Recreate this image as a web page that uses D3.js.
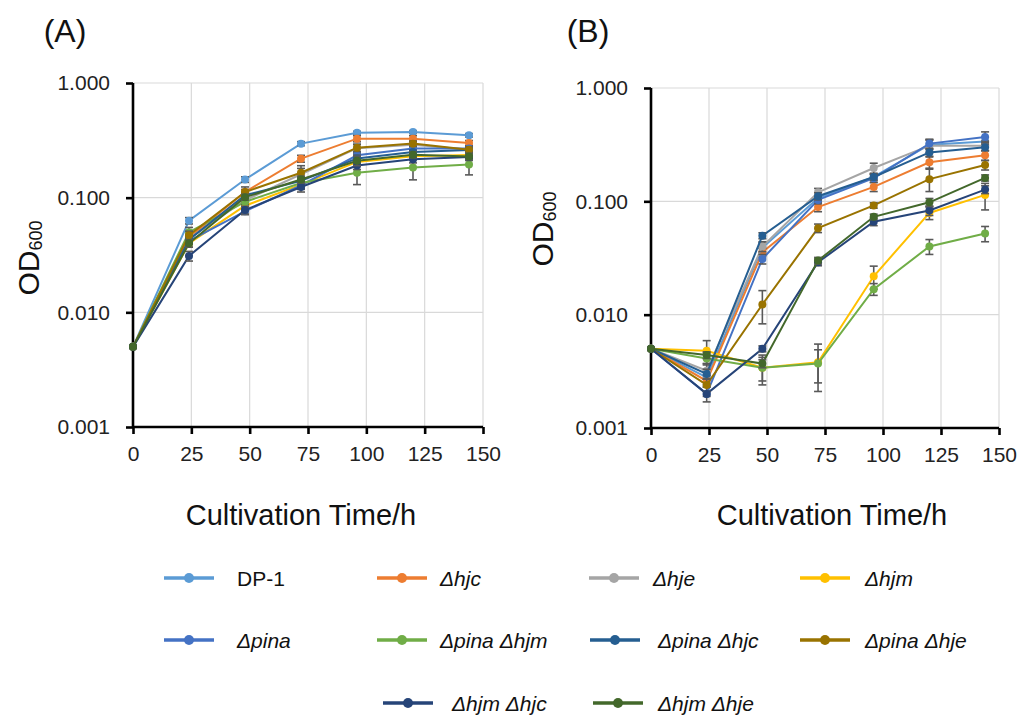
<html>
  <head>
    <meta charset="UTF-8" />
    <script src="https://cdnjs.cloudflare.com/ajax/libs/d3/7.8.5/d3.min.js"></script>
    <style>
      body { margin: 0; background: #fff; }
      text { font-family: "Liberation Sans", Arial, sans-serif; fill: #111; }
    </style>
  </head>
  <body>
    <svg id="chart" width="1029" height="715"></svg>
    <script>
      // sampling times (h)
      const timeH = [0, 24, 48, 72, 96, 120, 144];
      const xTicks = [0, 25, 50, 75, 100, 125, 150];
      const yTicks = [0.001, 0.01, 0.1, 1];

      const strainNames = [
        "DP-1", "Δhjc", "Δhje", "Δhjm", "Δpina",
        "Δpina Δhjm", "Δpina Δhjc", "Δpina Δhje", "Δhjm Δhjc", "Δhjm Δhje"
      ];
      const strainColors = [
        "#5b9bd5", "#ed7d31", "#a5a5a5", "#ffc000", "#4472c4",
        "#70ad47", "#255e91", "#997300", "#264478", "#43682b"
      ];

      // panel A : OD600 means, one row per strain
      const odA = [
        [0.005, 0.063, 0.144, 0.296, 0.369, 0.374, 0.350],
        [0.005, 0.045, 0.112, 0.219, 0.327, 0.327, 0.300],
        [0.005, 0.044, 0.095, 0.160, 0.270, 0.290, 0.262],
        [0.005, 0.040, 0.085, 0.130, 0.205, 0.230, 0.235],
        [0.005, 0.042, 0.076, 0.128, 0.234, 0.268, 0.268],
        [0.005, 0.050, 0.092, 0.134, 0.165, 0.183, 0.195],
        [0.005, 0.043, 0.105, 0.140, 0.220, 0.250, 0.260],
        [0.005, 0.047, 0.112, 0.165, 0.273, 0.296, 0.262],
        [0.005, 0.031, 0.078, 0.124, 0.191, 0.216, 0.226],
        [0.005, 0.040, 0.101, 0.144, 0.210, 0.237, 0.229]
      ];
      const sdA = [
        [0, 0.004, 0.008, 0.012, 0.010, 0.010, 0.012],
        [0, 0.003, 0.006, 0.015, 0.020, 0.020, 0.015],
        [0, 0.003, 0.010, 0.020, 0.020, 0.020, 0.020],
        [0, 0.003, 0.005, 0.010, 0.015, 0.015, 0.015],
        [0, 0.003, 0.005, 0.010, 0.010, 0.010, 0.010],
        [0, 0.005, 0.005, 0.015, 0.035, 0.040, 0.037],
        [0, 0.003, 0.006, 0.010, 0.015, 0.010, 0.010],
        [0, 0.004, 0.012, 0.025, 0.020, 0.015, 0.015],
        [0, 0.003, 0.006, 0.012, 0.015, 0.015, 0.015],
        [0, 0.003, 0.006, 0.010, 0.020, 0.015, 0.015]
      ];

      // panel B : OD600 means
      const odB = [
        [0.005, 0.0028, 0.039, 0.107, 0.164, 0.316, 0.338],
        [0.005, 0.0026, 0.0355, 0.089, 0.134, 0.221, 0.255],
        [0.005, 0.0032, 0.040, 0.120, 0.197, 0.310, 0.310],
        [0.005, 0.0048, 0.0034, 0.0038, 0.0218, 0.079, 0.114],
        [0.005, 0.0020, 0.031, 0.103, 0.160, 0.323, 0.370],
        [0.005, 0.0041, 0.0034, 0.0037, 0.0168, 0.040, 0.052],
        [0.005, 0.0030, 0.0498, 0.111, 0.164, 0.270, 0.300],
        [0.005, 0.0024, 0.0123, 0.058, 0.092, 0.157, 0.209],
        [0.005, 0.0020, 0.0050, 0.029, 0.066, 0.083, 0.127],
        [0.005, 0.0044, 0.0037, 0.030, 0.073, 0.098, 0.161]
      ];
      const sdB = [
        [0, 0.0004, 0.004, 0.008, 0.010, 0.030, 0.030],
        [0, 0.0003, 0.003, 0.008, 0.012, 0.025, 0.025],
        [0, 0.0005, 0.004, 0.010, 0.020, 0.040, 0.030],
        [0, 0.0011, 0.0008, 0.0017, 0.005, 0.010, 0.030],
        [0, 0.0003, 0.003, 0.008, 0.012, 0.030, 0.040],
        [0, 0.0005, 0.0010, 0.0012, 0.002, 0.006, 0.008],
        [0, 0.0003, 0.003, 0.008, 0.010, 0.020, 0.020],
        [0, 0.0003, 0.004, 0.005, 0.005, 0.035, 0.020],
        [0, 0.0001, 0.0003, 0.002, 0.005, 0.008, 0.010],
        [0, 0.0003, 0.0003, 0.002, 0.004, 0.008, 0.010]
      ];

      const svg = d3.select("#chart");

      const panels = [
        { tag: "(A)", tagX: 65, od: odA, sd: sdA, left: 133, right: 483, top: 83, bottom: 427, titleX: 301, odLabelX: 29, odLabelY: 258 },
        { tag: "(B)", tagX: 588, od: odB, sd: sdB, left: 651, right: 999, top: 88, bottom: 428, titleX: 832, odLabelX: 543, odLabelY: 229 }
      ];

      panels.forEach(drawPanel);

      function drawPanel(p) {
        let x = d3.scaleLinear().domain([0, 150]).range([p.left, p.right]);
        let y = d3.scaleLog().domain([0.001, 1]).range([p.bottom, p.top]);

        let g = svg.append("g");

        // grid
        g.append("g")
          .selectAll("line.vg")
          .data(xTicks.slice(1))
          .enter()
          .append("line")
          .attr("x1", d => x(d)).attr("x2", d => x(d))
          .attr("y1", p.top).attr("y2", p.bottom)
          .style("stroke", "#d9d9d9").style("stroke-width", 1.2);
        g.append("g")
          .selectAll("line.hg")
          .data(yTicks.slice(1))
          .enter()
          .append("line")
          .attr("x1", p.left).attr("x2", p.right)
          .attr("y1", d => y(d)).attr("y2", d => y(d))
          .style("stroke", "#d9d9d9").style("stroke-width", 1.2);

        // axes
        let xAxis = g.append("g")
          .attr("transform", `translate(0, ${p.bottom})`)
          .call(d3.axisBottom(x).tickValues(xTicks).tickSize(7).tickPadding(12).tickFormat(d3.format("d")));
        let yAxis = g.append("g")
          .attr("transform", `translate(${p.left}, 0)`)
          .call(d3.axisLeft(y).tickValues(yTicks).tickSize(7).tickPadding(16).tickFormat(d3.format(".3f")));

        [xAxis, yAxis].forEach(a => {
          a.select(".domain").style("stroke", "#000").style("stroke-width", 2.6);
          a.selectAll(".tick line").style("stroke", "#000").style("stroke-width", 2.6);
          a.selectAll(".tick text")
            .style("font-size", "21px")
            .style("fill", "#222")
            .style("font-family", "'Liberation Sans', Arial, sans-serif");
        });
        xAxis.select(".domain").attr("d", `M${p.left},0H${p.right}`);
        yAxis.select(".domain").attr("d", `M0,${p.bottom}V${p.top}`);

        // series
        let line = d3.line().x((d, i) => x(timeH[i])).y(d => y(d));

        p.od.forEach((vals, s) => {
          let sg = g.append("g");
          let col = strainColors[s];

          sg.append("path")
            .datum(vals)
            .attr("d", line)
            .style("fill", "none")
            .style("stroke", col)
            .style("stroke-width", 2);

          // error bars
          let errs = vals.map((v, i) => ({ t: timeH[i], v: v, e: p.sd[s][i] })).filter(d => d.e > 0);
          let eb = sg.selectAll(".err").data(errs).enter().append("g")
            .style("stroke", "#595959").style("stroke-width", 1.6);
          eb.append("line")
            .attr("x1", d => x(d.t)).attr("x2", d => x(d.t))
            .attr("y1", d => y(d.v + d.e)).attr("y2", d => y(Math.max(d.v - d.e, 0.0011)));
          eb.append("line")
            .attr("x1", d => x(d.t) - 4).attr("x2", d => x(d.t) + 4)
            .attr("y1", d => y(d.v + d.e)).attr("y2", d => y(d.v + d.e));
          eb.append("line")
            .attr("x1", d => x(d.t) - 4).attr("x2", d => x(d.t) + 4)
            .attr("y1", d => y(Math.max(d.v - d.e, 0.0011))).attr("y2", d => y(Math.max(d.v - d.e, 0.0011)));

          sg.selectAll("circle")
            .data(vals)
            .enter()
            .append("circle")
            .attr("cx", (d, i) => x(timeH[i]))
            .attr("cy", d => y(d))
            .attr("r", 4)
            .style("fill", col);
        });

        // labels
        svg.append("text")
          .attr("x", p.tagX).attr("y", 42)
          .attr("text-anchor", "middle")
          .style("font-size", "32px")
          .text(p.tag);

        svg.append("text")
          .attr("x", p.titleX).attr("y", 525)
          .attr("text-anchor", "middle")
          .style("font-size", "29px")
          .text("Cultivation Time/h");

        let od = svg.append("text")
          .attr("transform", `translate(${p.odLabelX + 10}, ${p.odLabelY}) rotate(-90)`)
          .attr("text-anchor", "middle")
          .style("font-size", "30px");
        od.append("tspan").text("OD");
        od.append("tspan").attr("dy", 3).style("font-size", "18px").text("600");
      }

      // legend
      const legendSlots = [
        [189, 578, 237], [402, 578, 440], [614, 578, 653], [825, 578, 865],
        [189, 640, 237], [402, 640, 440], [615, 640, 658], [825, 640, 865],
        [408, 703, 452], [618, 703, 658]
      ];

      let lg = svg.append("g")
        .selectAll(".leg")
        .data(strainNames)
        .enter()
        .append("g")
        .attr("class", "leg")
        .attr("transform", (d, i) => `translate(${legendSlots[i][0]}, ${legendSlots[i][1]})`);

      lg.append("line")
        .attr("x1", -25).attr("x2", 25)
        .style("stroke", (d, i) => strainColors[i])
        .style("stroke-width", 3.5);
      lg.append("circle")
        .attr("r", 5)
        .style("fill", (d, i) => strainColors[i]);
      lg.append("text")
        .attr("x", (d, i) => legendSlots[i][2] - legendSlots[i][0])
        .attr("y", 8)
        .style("font-size", "21px")
        .style("font-style", d => (d === "DP-1" ? "normal" : "italic"))
        .text(d => d);
    </script>
  </body>
</html>
